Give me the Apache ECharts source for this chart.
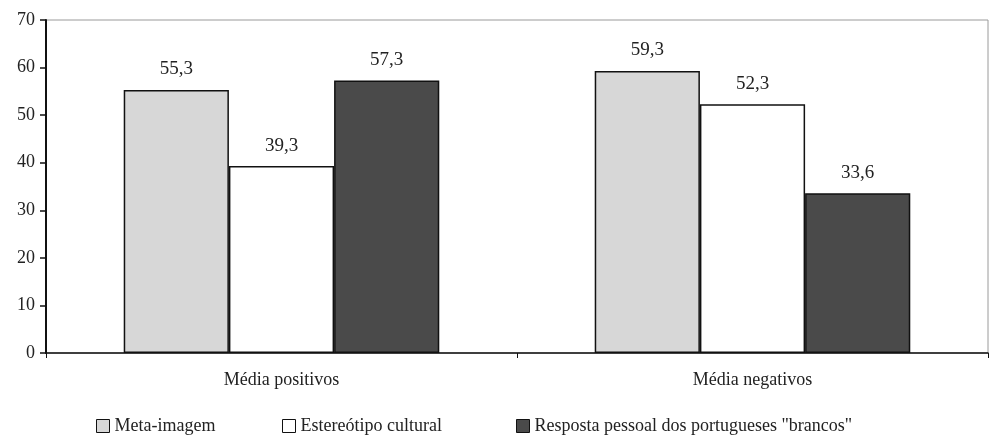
<!DOCTYPE html>
<html>
<head>
<meta charset="utf-8">
<script src="https://cdn.jsdelivr.net/npm/echarts@6/dist/echarts.min.js"></script>
<style>html,body{margin:0;padding:0;background:#fff;}#c{width:989px;height:437px;}</style>
</head>
<body>
<div id="c"></div>
<script>
var categories = ['Média positivos', 'Média negativos'];
var seriesNames = ['Meta-imagem', 'Estereótipo cultural', 'Resposta pessoal dos portugueses "brancos"'];
var metaImagem = [55.3, 59.3];
var estereotipo = [39.3, 52.3];
var resposta = [57.3, 33.6];
var yTicks = [0, 10, 20, 30, 40, 50, 60, 70];

var FONT = '"Liberation Serif", "Times New Roman", serif';
var colors = ['#d7d7d7', '#ffffff', '#4a4a4a'];
var values = [metaImagem, estereotipo, resposta];
var legendLefts = [91, 277, 511];

var chart = echarts.init(document.getElementById('c'));
var series = values.map(function (v, i) {
  return {
    name: seriesNames[i],
    type: 'bar',
    data: v,
    barGap: '0%',
    barCategoryGap: '33%',
    itemStyle: { color: colors[i], borderColor: '#111', borderWidth: 1.5 },
    label: {
      show: true, position: 'top', distance: 11,
      fontFamily: FONT, fontSize: 19, color: '#222',
      formatter: function (p) { return p.value.toFixed(1).replace('.', ','); }
    }
  };
});
var legends = seriesNames.map(function (n, i) {
  return {
    data: [n],
    left: legendLefts[i], top: 412,
    itemWidth: 13, itemHeight: 13,
    icon: 'rect',
    itemStyle: { borderColor: '#111', borderWidth: 1 },
    textStyle: { fontFamily: FONT, fontSize: 18, color: '#222' },
    selectedMode: false
  };
});
chart.setOption({
  animation: false,
  backgroundColor: '#fff',
  textStyle: { fontFamily: FONT },
  legend: legends,
  grid: { left: 46, right: 1, top: 20, bottom: 84, show: true, borderColor: '#9a9a9a', borderWidth: 1, backgroundColor: 'transparent' },
  xAxis: {
    type: 'category', data: categories,
    axisLine: { lineStyle: { color: '#111', width: 1.5 } },
    axisTick: { show: true, length: 5, lineStyle: { color: '#111' } },
    axisLabel: { fontFamily: FONT, fontSize: 18, color: '#222', margin: 18 }
  },
  yAxis: {
    type: 'value', min: yTicks[0], max: yTicks[yTicks.length - 1], interval: 10,
    axisLine: { show: true, lineStyle: { color: '#111', width: 2 } },
    axisTick: { show: true, length: 6, lineStyle: { color: '#111', width: 1.5 } },
    splitLine: { show: false },
    axisLabel: { fontFamily: FONT, fontSize: 18, color: '#222', margin: 11 }
  },
  series: series
});
</script>
</body>
</html>
